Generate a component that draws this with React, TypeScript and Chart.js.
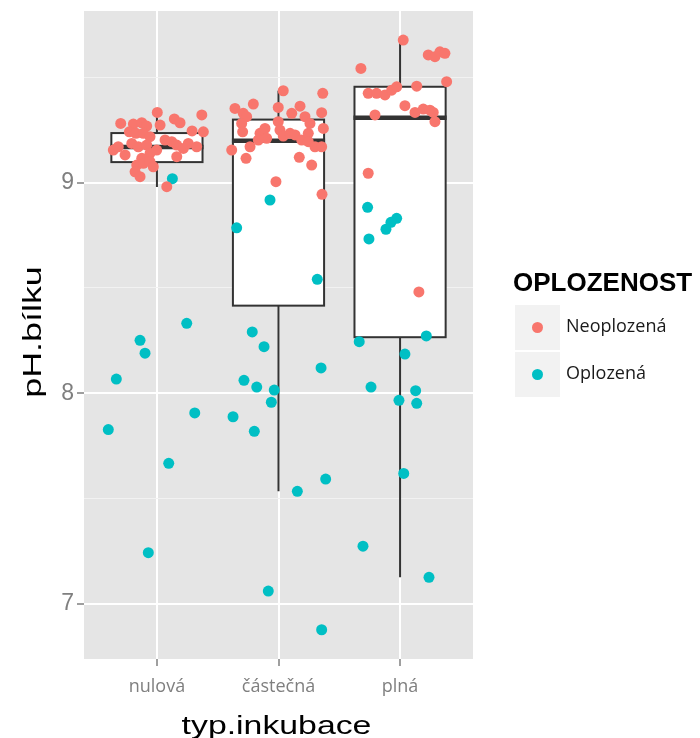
import { useEffect, useRef } from 'react';
import { Chart, registerables } from 'chart.js';

Chart.register(...registerables);

const categories = ['nulová', 'částečná', 'plná'];
const seriesNames = ['Neoplozená', 'Oplozená'];
const seriesColors = ['#F8766D', '#00BFC4'];
const yTickValues = [7, 7.5, 8, 8.5, 9, 9.5];
const yMin = 6.737;
const yMax = 9.816;

// Box statistics per category (pH.bílku)
const boxLower = [8.98, 7.534, 7.125];
const boxQ1 = [9.098, 8.416, 8.266];
const boxMedian = [9.17, 9.2, 9.309];
const boxQ3 = [9.236, 9.3, 9.456];
const boxUpper = [9.334, 9.437, 9.678];

// Jittered observations: [x position on the category axis, pH]
const neoNulova = [
  [1.003, 9.334], [1.143, 9.303], [1.19, 9.285], [1.369, 9.322], [1.382, 9.242],
  [0.702, 9.282], [0.806, 9.279], [0.875, 9.285], [0.916, 9.269], [0.773, 9.242],
  [0.828, 9.235], [0.888, 9.235], [0.943, 9.219], [0.641, 9.155], [0.682, 9.171],
  [0.738, 9.132], [0.793, 9.187], [0.847, 9.171], [0.916, 9.179], [0.943, 9.14],
  [0.875, 9.116], [0.834, 9.084], [0.888, 9.092], [0.943, 9.1], [1.122, 9.195],
  [1.163, 9.179], [1.217, 9.163], [1.258, 9.187], [1.327, 9.171], [1.163, 9.124],
  [0.82, 9.052], [0.861, 9.029], [1.081, 8.981], [0.998, 9.155], [0.97, 9.076],
  [1.067, 9.203], [1.289, 9.246], [1.026, 9.274],
];
const neoCastecna = [
  [2.039, 9.437], [2.364, 9.425], [1.642, 9.353], [1.793, 9.374], [1.71, 9.33],
  [1.738, 9.314], [1.998, 9.358], [2.109, 9.33], [2.177, 9.364], [2.218, 9.314],
  [2.355, 9.333], [1.697, 9.282], [1.705, 9.242], [1.848, 9.235], [1.889, 9.258],
  [1.903, 9.211], [1.998, 9.29], [2.012, 9.25], [2.039, 9.222], [2.095, 9.235],
  [2.136, 9.227], [2.191, 9.203], [2.245, 9.235], [2.245, 9.195], [2.369, 9.258],
  [1.834, 9.203], [1.615, 9.155], [1.766, 9.171], [1.733, 9.116], [2.3, 9.171],
  [2.355, 9.171], [2.171, 9.121], [2.273, 9.084], [1.979, 9.005], [2.358, 8.945],
  [2.259, 9.282],
];
const neoPlna = [
  [3.026, 9.678], [3.232, 9.607], [3.287, 9.599], [3.328, 9.622], [3.369, 9.615],
  [2.678, 9.543], [3.383, 9.48], [3.137, 9.459], [2.738, 9.425], [2.807, 9.425],
  [2.876, 9.417], [2.931, 9.44], [2.972, 9.456], [3.04, 9.366], [3.123, 9.334],
  [3.191, 9.35], [3.246, 9.345], [3.273, 9.334], [2.794, 9.322], [3.287, 9.29],
  [2.738, 9.045], [3.155, 8.481],
];
const oplNulova = [
  [1.127, 9.019], [1.245, 8.332], [0.861, 8.251], [0.902, 8.19], [0.666, 8.067],
  [1.311, 7.906], [0.6, 7.827], [1.097, 7.667], [0.929, 7.242],
];
const oplCastecna = [
  [1.93, 8.918], [1.656, 8.786], [2.319, 8.541], [1.784, 8.291], [1.881, 8.221],
  [2.35, 8.12], [1.716, 8.061], [1.821, 8.029], [1.965, 8.015], [1.941, 7.957],
  [1.626, 7.888], [1.801, 7.819], [2.155, 7.534], [2.388, 7.592], [1.916, 7.06],
  [2.355, 6.876],
];
const oplPlna = [
  [2.733, 8.883], [2.972, 8.831], [2.925, 8.812], [2.884, 8.779], [2.744, 8.733],
  [2.664, 8.245], [3.216, 8.272], [3.04, 8.186], [2.761, 8.029], [3.128, 8.012],
  [2.991, 7.966], [3.137, 7.952], [3.03, 7.619], [2.695, 7.273], [3.238, 7.125],
];

const toPoints = (rows: number[][]) => rows.map(([x, y]) => ({ x, y }));

const PANEL_BG = '#E5E5E5';
const MINOR_GRID = '#F2F2F2';
const BOX_LINE = '#333333';
const TICK_GREY = '#7F7F7F';

function drawStretched(
  ctx: CanvasRenderingContext2D,
  text: string,
  x: number,
  y: number,
  font: string,
  sx: number,
  rotate = 0,
) {
  ctx.save();
  ctx.translate(x, y);
  if (rotate) ctx.rotate(rotate);
  ctx.scale(sx, 1);
  ctx.font = font;
  ctx.textAlign = 'center';
  ctx.textBaseline = 'alphabetic';
  ctx.fillStyle = '#000000';
  ctx.fillText(text, 0, 0);
  ctx.restore();
}

const panelPlugin = {
  id: 'panelBackground',
  beforeDraw(chart: any) {
    const { ctx, chartArea } = chart;
    ctx.save();
    ctx.fillStyle = '#FFFFFF';
    ctx.fillRect(0, 0, chart.width, chart.height);
    ctx.fillStyle = PANEL_BG;
    ctx.fillRect(chartArea.left, chartArea.top, chartArea.right - chartArea.left, chartArea.bottom - chartArea.top);
    ctx.restore();
  },
};

const boxPlugin = {
  id: 'boxes',
  beforeDatasetsDraw(chart: any) {
    const { ctx } = chart;
    const xs = chart.scales.x;
    const ys = chart.scales.y;
    ctx.save();
    ctx.strokeStyle = BOX_LINE;
    ctx.lineCap = 'butt';
    categories.forEach((_, i) => {
      const c = i + 1;
      const left = xs.getPixelForValue(c - 0.375);
      const right = xs.getPixelForValue(c + 0.375);
      const mid = xs.getPixelForValue(c);
      const yLo = ys.getPixelForValue(boxLower[i]);
      const yQ1 = ys.getPixelForValue(boxQ1[i]);
      const yMed = ys.getPixelForValue(boxMedian[i]);
      const yQ3 = ys.getPixelForValue(boxQ3[i]);
      const yHi = ys.getPixelForValue(boxUpper[i]);
      ctx.lineWidth = 2;
      ctx.beginPath();
      ctx.moveTo(mid, yHi);
      ctx.lineTo(mid, yQ3);
      ctx.moveTo(mid, yQ1);
      ctx.lineTo(mid, yLo);
      ctx.stroke();
      ctx.fillStyle = '#FFFFFF';
      ctx.fillRect(left, yQ3, right - left, yQ1 - yQ3);
      ctx.strokeRect(left, yQ3, right - left, yQ1 - yQ3);
      ctx.lineWidth = 4.5;
      ctx.beginPath();
      ctx.moveTo(left - 1, yMed);
      ctx.lineTo(right + 1, yMed);
      ctx.stroke();
    });
    ctx.restore();
  },
};

const annotationPlugin = {
  id: 'titlesAndLegend',
  afterDraw(chart: any) {
    const { ctx, chartArea } = chart;
    const cx = (chartArea.left + chartArea.right) / 2;
    const cy = (chartArea.top + chartArea.bottom) / 2;
    drawStretched(ctx, 'typ.inkubace', cx - 2, 734, '26px "Liberation Sans", Arial, sans-serif', 1.3);
    drawStretched(ctx, 'pH.bílku', 41, cy - 3, '26px "Liberation Sans", Arial, sans-serif', 1.38, -Math.PI / 2);

    // legend
    ctx.save();
    ctx.fillStyle = '#000000';
    ctx.font = 'bold 26px "Liberation Sans", Arial, sans-serif';
    ctx.textAlign = 'left';
    ctx.textBaseline = 'alphabetic';
    ctx.fillText('OPLOZENOST', 513, 291);
    const keyTops = [305, 352];
    seriesNames.forEach((name, i) => {
      const top = keyTops[i];
      ctx.fillStyle = MINOR_GRID;
      ctx.fillRect(515, top, 45, 45);
      ctx.fillStyle = seriesColors[i];
      ctx.beginPath();
      ctx.arc(537.5, top + 22.5, 5.5, 0, Math.PI * 2);
      ctx.fill();
      ctx.fillStyle = '#1A1A1A';
      ctx.font = '18px "Open Sans", sans-serif';
      ctx.textBaseline = 'middle';
      ctx.fillText(name, 566, top + 22);
    });
    ctx.restore();
  },
};

export default function App() {
  const canvasRef = useRef<HTMLCanvasElement | null>(null);

  useEffect(() => {
    if (!canvasRef.current) return;
    const chart = new Chart(canvasRef.current, {
      type: 'scatter',
      data: {
        datasets: [
          {
            label: seriesNames[0],
            data: toPoints([...neoNulova, ...neoCastecna, ...neoPlna]),
            backgroundColor: seriesColors[0],
            borderWidth: 0,
            pointRadius: 5.5,
          },
          {
            label: seriesNames[1],
            data: toPoints([...oplNulova, ...oplCastecna, ...oplPlna]),
            backgroundColor: seriesColors[1],
            borderWidth: 0,
            pointRadius: 5.5,
          },
        ],
      },
      options: {
        responsive: false,
        animation: false,
        devicePixelRatio: 1,
        layout: { padding: { left: 0, top: 11, right: 227, bottom: 0 } },
        plugins: {
          legend: { display: false },
          tooltip: { enabled: false },
        },
        scales: {
          x: {
            type: 'linear',
            min: 0.4,
            max: 3.6,
            afterBuildTicks: (scale: any) => {
              scale.ticks = categories.map((_, i) => ({ value: i + 1 }));
            },
            afterFit: (scale: any) => {
              scale.height = 79;
              scale.paddingLeft = 0;
              scale.paddingRight = 0;
            },
            border: { display: false },
            grid: {
              color: '#FFFFFF',
              lineWidth: 2,
              tickColor: TICK_GREY,
              tickWidth: 1.5,
              tickLength: 7,
            },
            ticks: {
              autoSkip: false,
              maxRotation: 0,
              padding: 10,
              color: TICK_GREY,
              font: { family: '"Open Sans", sans-serif', size: 18 },
              callback: (v: any) => categories[Math.round(Number(v)) - 1] ?? '',
            },
          },
          y: {
            type: 'linear',
            min: yMin,
            max: yMax,
            afterBuildTicks: (scale: any) => {
              scale.ticks = yTickValues.map((v) => ({ value: v }));
            },
            afterFit: (scale: any) => {
              scale.width = 84;
              scale.paddingTop = 0;
              scale.paddingBottom = 0;
            },
            border: { display: false },
            grid: {
              color: (c: any) => (Number.isInteger(c.tick?.value) ? '#FFFFFF' : MINOR_GRID),
              lineWidth: (c: any) => (Number.isInteger(c.tick?.value) ? 2 : 1),
              tickColor: (c: any) => (Number.isInteger(c.tick?.value) ? TICK_GREY : 'rgba(0,0,0,0)'),
              tickWidth: 1.5,
              tickLength: 7,
            },
            ticks: {
              autoSkip: false,
              padding: 3,
              color: TICK_GREY,
              font: { family: '"Liberation Sans", Arial, sans-serif', size: 23 },
              callback: (v: any) => (Number.isInteger(Number(v)) ? String(v) : ''),
            },
          },
        },
      },
      plugins: [panelPlugin, boxPlugin, annotationPlugin],
    });
    return () => chart.destroy();
  }, []);

  return (
    <div style={{ position: 'absolute', left: 0, top: 0, width: 700, height: 738, background: '#FFFFFF' }}>
      <canvas ref={canvasRef} width={700} height={738} style={{ display: 'block' }} />
    </div>
  );
}
